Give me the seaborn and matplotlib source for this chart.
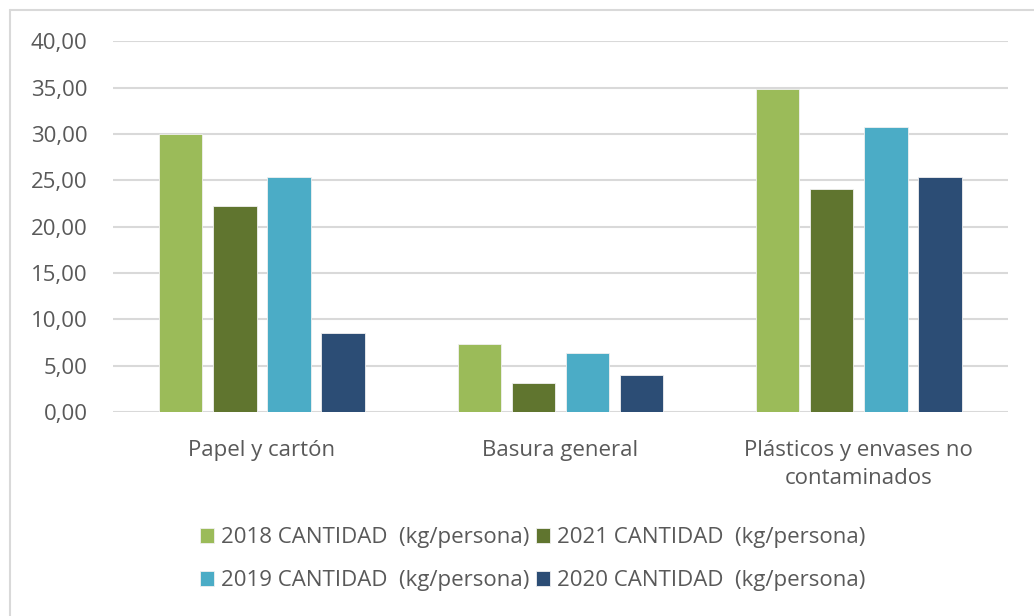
import matplotlib
matplotlib.use("Agg")
import matplotlib.pyplot as plt
import seaborn as sns
import pandas as pd
from matplotlib.ticker import FuncFormatter
from matplotlib.lines import Line2D

categories = ["Papel y cartón", "Basura general", "Plásticos y envases no\ncontaminados"]
series = [
    "2018 CANTIDAD  (kg/persona)",
    "2021 CANTIDAD  (kg/persona)",
    "2019 CANTIDAD  (kg/persona)",
    "2020 CANTIDAD  (kg/persona)",
]
v2018 = [30.0, 7.4, 34.8]
v2021 = [22.2, 3.1, 24.1]
v2019 = [25.4, 6.4, 30.7]
v2020 = [8.5, 4.0, 25.4]
colors = ["#9BBB59", "#60752F", "#4BACC6", "#2C4D75"]

rows = []
for s, vals in zip(series, [v2018, v2021, v2019, v2020]):
    for c, v in zip(categories, vals):
        rows.append({"categoria": c, "serie": s, "valor": v})
df = pd.DataFrame(rows)

sns.set_style("white")
plt.rcParams["font.family"] = ["Open Sans", "DejaVu Sans"]

fig = plt.figure(figsize=(10.34, 6.16), dpi=100)
ax = fig.add_axes([0.109, 0.331, 0.866, 0.602])

sns.barplot(data=df, x="categoria", y="valor", hue="serie", hue_order=series,
            order=categories, palette=colors, saturation=1, width=0.725, gap=0.2,
            edgecolor="#f0f0f0", linewidth=0.6, ax=ax, legend=True)

ax.set_ylim(0, 40)
ax.set_xlim(-0.5, 2.5)
ax.set_yticks(range(0, 41, 5))
ax.yaxis.set_major_formatter(FuncFormatter(lambda v, p: f"{v:.2f}".replace(".", ",")))
ax.grid(axis="y", color="#d9d9d9", linewidth=1.5)
ax.set_axisbelow(True)
for sp in ax.spines.values():
    sp.set_visible(False)
ax.set_xlabel("")
ax.set_ylabel("")
ax.tick_params(axis="y", length=0, pad=18, labelsize=16, labelcolor="#595959")
ax.tick_params(axis="x", length=0, pad=20, labelsize=16, labelcolor="#595959")
for lbl in ax.get_xticklabels():
    lbl.set_linespacing(1.45)

handles, labels = ax.get_legend_handles_labels()
ax.get_legend().remove()
idx = [0, 2, 1, 3]
fig.legend([handles[i] for i in idx], [labels[i] for i in idx], loc="center",
           bbox_to_anchor=(0.515, 0.092), ncol=2, frameon=False, fontsize=16,
           labelcolor="#595959", handlelength=0.65, handleheight=0.65,
           handletextpad=0.3, columnspacing=0.3, labelspacing=1.0)

# outer chart border
fig.add_artist(Line2D([0.0097, 0.0097], [0, 0.984], color="#d9d9d9", linewidth=1.5, transform=fig.transFigure))
fig.add_artist(Line2D([0.0097, 1], [0.984, 0.984], color="#d9d9d9", linewidth=1.5, transform=fig.transFigure))

fig.savefig("out.png", dpi=100)
